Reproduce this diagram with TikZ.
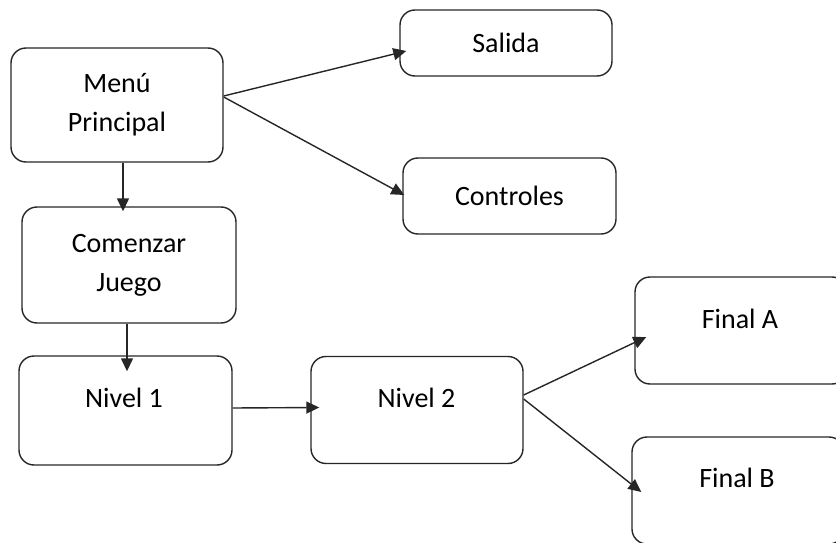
\documentclass[tikz,border=0pt]{standalone}
\usepackage{fontspec}
\setmainfont{Carlito}
\usetikzlibrary{arrows.meta,calc}
\begin{document}
\begin{tikzpicture}[x=1pt,y=-1pt,
  box/.style={draw=black!85,line width=1.4pt,rounded corners=15pt,minimum width=212pt,inner sep=0pt,font=\fontsize{28}{39}\selectfont,align=center},
  txt/.style={font=\fontsize{28}{39}\selectfont,inner sep=0pt},
  arr/.style={draw=black!85,line width=1.4pt,-{Triangle[length=13pt,width=12pt]}}]
\clip (0,0) rectangle (836,543);
\node[box,minimum height=114pt] (m) at (117,105) {Menú\\Principal};
\node[box,minimum height=66pt] (s) at (506,43) {Salida};
\node[box,minimum width=213pt,minimum height=76pt] (c) at (509.5,196) {Controles};
\node[box,minimum width=214pt,minimum height=116pt] (cj) at (129,265) {Comenzar\\Juego};
\node[box,minimum width=213pt,minimum height=109pt] (n1) at (125.5,410.5) {};
\node[txt] (t1) at (124,398) {Nivel 1};
\node[box,minimum height=107pt] (n2) at (417,410) {};
\node[txt] (t2) at (416.5,398) {Nivel 2};
\node[box,minimum height=107pt] (fa) at (741,330.5) {};
\node[txt] (ta) at (740,319) {Final A};
\node[box,minimum height=107pt] (fb) at (738,490.5) {};
\node[txt] (tb) at (737,478) {Final B};
\draw[arr] ([yshift=9pt]m.east) -- ($(s.west)+(7,8)$);
\draw[arr] ([yshift=8pt]m.east) -- ($(c.west)+(2,-1)$);
\draw[arr] ([xshift=6pt]m.south) -- ($(cj.north)+(-6,5)$);
\draw[arr] ([xshift=-2pt]cj.south) -- ($(n1.north)+(1.5,16)$);
\draw[arr] ([yshift=2.5pt]n1.east) -- ($(n2.west)+(9,-2.5)$);
\draw[arr] ([yshift=15pt]n2.east) -- ($(fa.west)+(12,6.5)$);
\draw[arr] ([yshift=11pt]n2.east) -- ($(fb.west)+(10,1.5)$);
\end{tikzpicture}
\end{document}
